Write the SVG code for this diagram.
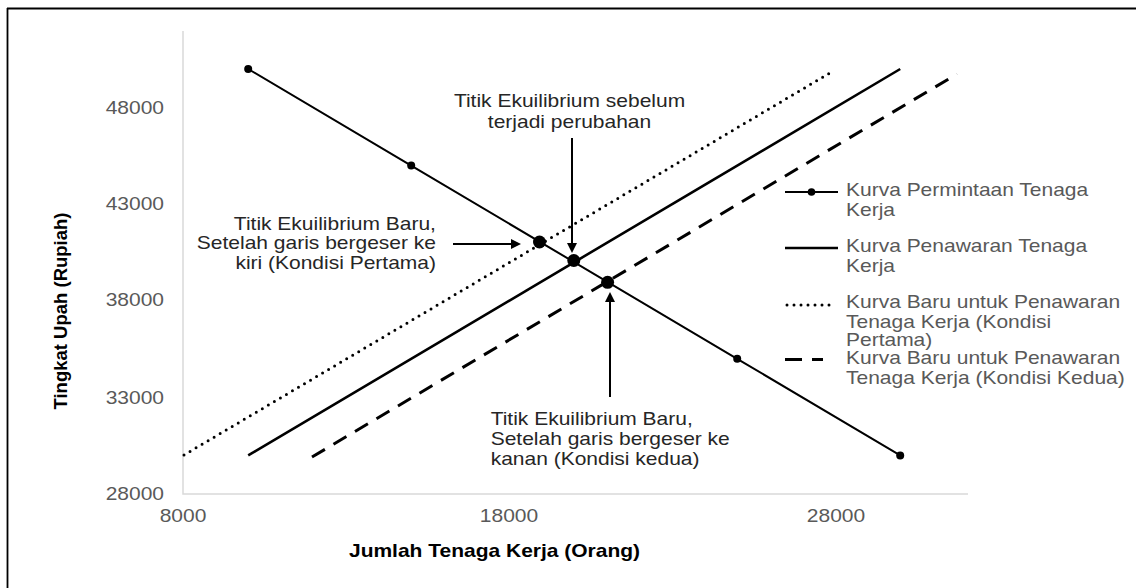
<svg xmlns="http://www.w3.org/2000/svg" width="1136" height="588" viewBox="0 0 1136 588">
<style>
.t{font-family:"Liberation Sans",Arial,sans-serif;font-size:17.5px}
.tick{fill:#595959}
.ann{fill:#262626}
.leg{fill:#595959}
.ttl{font-weight:bold;fill:#000}
.axis{stroke:#d9d9d9;stroke-width:1.5;fill:none}
.dem{stroke:#000;stroke-width:2;fill:none}
.sup{stroke:#000;stroke-width:2.6;fill:none}
.dot{stroke:#000;stroke-width:3;fill:none;stroke-dasharray:0 7;stroke-linecap:round}
.dash{stroke:#000;stroke-width:3;fill:none;stroke-dasharray:15 10}
.arr{stroke:#000;stroke-width:2;fill:none}
</style>
<defs>
<marker id="ah" markerUnits="userSpaceOnUse" markerWidth="11" markerHeight="11" refX="1" refY="5" orient="auto">
<path d="M0,0 L10,5 L0,10 z" fill="#000"/>
</marker>
</defs>
<rect width="1136" height="588" fill="#fff"/>
<g id="frame">
<line x1="7" y1="8.5" x2="1136" y2="8.5" stroke="#000" stroke-width="1.8"/>
<line x1="7.5" y1="8" x2="7.5" y2="588" stroke="#000" stroke-width="1.8"/>
</g>
<g id="axes">
<polyline class="axis" points="183,31 183,494 968,494"/>
</g>
<g id="axis-titles">
<text class="t ttl" style="font-size:18.5px" text-anchor="middle" transform="translate(67,311) rotate(-90)">Tingkat Upah (Rupiah)</text>
</g>
<g id="curves">
<polyline id="demand" class="dem" points="248.2,69 411.2,165.6 737.2,358.8 900.2,455.4"/>
<g id="demand-points" fill="#000">
<circle cx="248.2" cy="69" r="4"/>
<circle cx="411.2" cy="165.6" r="4"/>
<circle cx="737.2" cy="358.8" r="4"/>
<circle cx="900.2" cy="455.4" r="4"/>
</g>
<line id="supply" class="sup" x1="248.2" y1="455.4" x2="900.2" y2="69"/>
<line id="supply-new-1" class="dot" x1="184" y1="455" x2="834" y2="70.5"/>
<line id="supply-new-2" class="dash" x1="312" y1="457" x2="957" y2="74"/>
</g>
<g id="equilibria" fill="#000">
<circle id="eq-left" cx="539.5" cy="242" r="6.5"/>
<circle id="eq-before" cx="573.8" cy="260.5" r="6.5"/>
<circle id="eq-right" cx="607.6" cy="282.3" r="6.5"/>
</g>
<g id="connectors">
<line class="arr" x1="572" y1="138" x2="572" y2="244" marker-end="url(#ah)"/>
<line class="arr" x1="453" y1="244" x2="512" y2="244" marker-end="url(#ah)"/>
<line class="arr" x1="610" y1="397" x2="610" y2="301" marker-end="url(#ah)"/>
</g>
<g id="legend-lines">
<line class="dem" x1="785" y1="192" x2="838" y2="192"/>
<circle cx="811.5" cy="192" r="3.8" fill="#000"/>
<line class="sup" x1="785" y1="248" x2="838" y2="248"/>
<line class="dot" x1="787" y1="305" x2="833" y2="305"/>
<line class="dash" x1="785" y1="359.5" x2="823" y2="359.5" style="stroke-dasharray:17 10"/>
</g>
<g transform="scale(1.2,1)">
<g id="y-ticks" class="t tick" text-anchor="end">
<text x="136.7" y="114">48000</text>
<text x="136.7" y="210.5">43000</text>
<text x="136.7" y="306.5">38000</text>
<text x="136.7" y="404.5">33000</text>
<text x="136.7" y="500.5">28000</text>
</g>
<g id="x-ticks" class="t tick" text-anchor="middle">
<text x="152.5" y="522">8000</text>
<text x="424.2" y="522">18000</text>
<text x="696.7" y="522">28000</text>
</g>
<text id="x-title" class="t ttl" x="412.1" y="557" text-anchor="middle">Jumlah Tenaga Kerja (Orang)</text>
<g id="note-before" class="t ann" text-anchor="middle">
<text x="474.6" y="107.5">Titik Ekuilibrium sebelum</text>
<text x="474.6" y="128">terjadi perubahan</text>
</g>
<g id="note-left" class="t ann" text-anchor="end">
<text x="363.3" y="230">Titik Ekuilibrium Baru,</text>
<text x="363.3" y="249.5">Setelah garis bergeser ke</text>
<text x="363.3" y="269">kiri (Kondisi Pertama)</text>
</g>
<g id="note-right" class="t ann">
<text x="408.9" y="425.5">Titik Ekuilibrium Baru,</text>
<text x="408.9" y="445.5">Setelah garis bergeser ke</text>
<text x="408.9" y="465.5">kanan (Kondisi kedua)</text>
</g>
<g id="legend" class="t leg">
<text x="705" y="196">Kurva Permintaan Tenaga</text>
<text x="705" y="216">Kerja</text>
<text x="705" y="252">Kurva Penawaran Tenaga</text>
<text x="705" y="272">Kerja</text>
<text x="705" y="308.5">Kurva Baru untuk Penawaran</text>
<text x="705" y="328">Tenaga Kerja (Kondisi</text>
<text x="705" y="346">Pertama)</text>
<text x="705" y="364.5">Kurva Baru untuk Penawaran</text>
<text x="705" y="384">Tenaga Kerja (Kondisi Kedua)</text>
</g>
</g>
</svg>
